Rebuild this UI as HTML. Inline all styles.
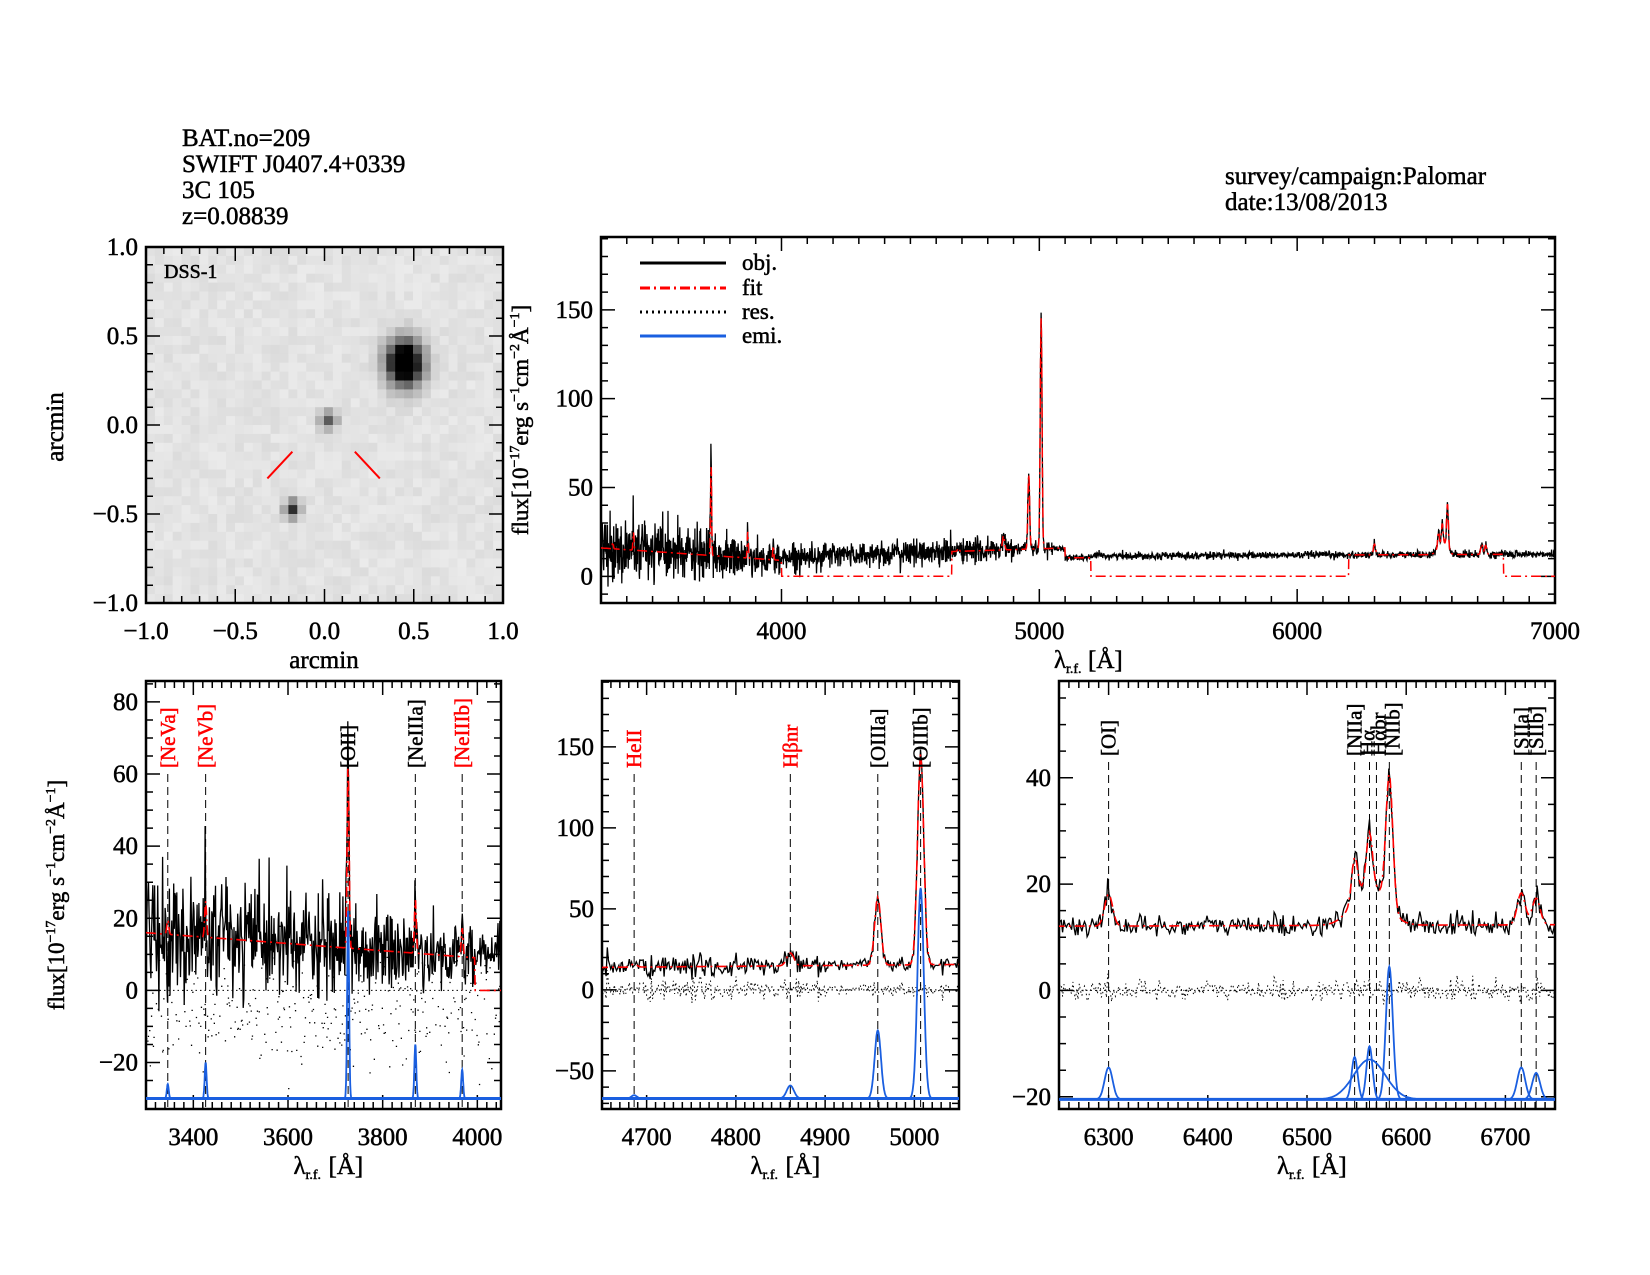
<!DOCTYPE html>
<html><head><meta charset="utf-8"><style>
html,body{margin:0;padding:0;background:#fff;}
svg{display:block;}
text{font-family:"Liberation Serif",serif;stroke:currentColor;stroke-width:0.5px;}
</style></head><body>
<svg id="s" width="1650" height="1275" xmlns="http://www.w3.org/2000/svg">
<g font-size="25" fill="#000" color="#000">
<text x="182" y="146">BAT.no=209</text>
<text x="182" y="172">SWIFT J0407.4+0339</text>
<text x="182" y="198">3C 105</text>
<text x="182" y="224">z=0.08839</text>
<text x="1225" y="184">survey/campaign:Palomar</text>
<text x="1225" y="210">date:13/08/2013</text>
</g>
</svg>
<script>
(function(){
var NS="http://www.w3.org/2000/svg",S=document.getElementById('s');
function el(t,a,p){var e=document.createElementNS(NS,t);for(var k in a)e.setAttribute(k,a[k]);(p||S).appendChild(e);return e;}
function txt(x,y,s,a,p){a=Object.assign({x:x,y:y,fill:'#000',color:'#000'},a||{});if(a.fill!=='#000')a.color=a.fill;var e=el('text',a,p);e.textContent=s;return e;}
var seed=12345;function rnd(){seed=(seed*1103515245+12345)%2147483648;return seed/2147483648;}
function gn(){var u=rnd()+1e-9,v=rnd();return Math.sqrt(-2*Math.log(u))*Math.cos(6.2832*v);}
function G(x,c,a,s){return a*Math.exp(-0.5*((x-c)/s)*((x-c)/s));}
var ix0=146,iy0=247,iw=357,ih=356,cell=8.9;
el('clipPath',{id:'ci'}).appendChild(el('rect',{x:ix0,y:iy0,width:iw,height:ih}));
var g=el('g',{'clip-path':'url(#ci)'});
function A2X(a){return ix0+(a+1)*iw/2;}function B2Y(b){return iy0+(1-b)*ih/2;}
var stars=[[0.45,0.35,0.07,0.09,1.3],[0.02,0.03,0.035,0.035,0.55],[-0.18,-0.47,0.03,0.035,0.75]];
for(var i=0;i<41;i++)for(var j=0;j<41;j++){
 var a=-1+(i+0.5)*cell*2/iw,b=1-(j+0.5)*cell*2/ih;
 var v=0.08+0.06*rnd();
 stars.forEach(function(s){v+=s[4]*Math.exp(-0.5*(((a-s[0])/s[2])**2+((b-s[1])/s[3])**2));});
 if(v>1)v=1;var c=Math.round(255*(1-v));
 el('rect',{x:ix0+i*cell,y:iy0+j*cell,width:cell+0.5,height:cell+0.5,fill:'rgb('+c+','+c+','+c+')'},g);}
el('line',{x1:A2X(-0.32),y1:B2Y(-0.3),x2:A2X(-0.18),y2:B2Y(-0.15),stroke:'#f00','stroke-width':2});
el('line',{x1:A2X(0.17),y1:B2Y(-0.15),x2:A2X(0.31),y2:B2Y(-0.3),stroke:'#f00','stroke-width':2});
txt(164,278,'DSS-1',{'font-size':20});
function frame(x0,y0,w,h,xr,yr,xmaj,xmin,ymaj,ymin,fmtx,fmty){
 el('rect',{x:x0,y:y0,width:w,height:h,fill:'none',stroke:'#000','stroke-width':2.5});
 function X(v){return x0+(v-xr[0])/(xr[1]-xr[0])*w;}function Y(v){return y0+h-(v-yr[0])/(yr[1]-yr[0])*h;}
 var d='';
 for(var v=Math.ceil(xr[0]/xmin-1e-6)*xmin;v<=xr[1]+1e-6;v+=xmin){var L=(Math.abs(v/xmaj-Math.round(v/xmaj))<1e-6)?14:7;var px=X(v);d+='M'+px+' '+(y0+h)+'v'+(-L)+'M'+px+' '+y0+'v'+L;
  if(L==14)txt(px,y0+h+36,fmtx(v),{'text-anchor':'middle','font-size':25});}
 for(var v=Math.ceil(yr[0]/ymin-1e-6)*ymin;v<=yr[1]+1e-6;v+=ymin){var L=(Math.abs(v/ymaj-Math.round(v/ymaj))<1e-6)?14:7;var py=Y(v);d+='M'+x0+' '+py+'h'+L+'M'+(x0+w)+' '+py+'h'+(-L);
  if(L==14)txt(x0-8,py+8,fmty(v),{'text-anchor':'end','font-size':25});}
 el('path',{d:d,stroke:'#000','stroke-width':1.5,fill:'none'});
 return {X:X,Y:Y};}
function f1(v){if(Math.abs(v)<1e-6)v=0;return v.toFixed(1).replace('-','\u2212');}
function f0(v){return (''+Math.round(v)).replace('-','\u2212');}
frame(ix0,iy0,iw,ih,[-1,1],[-1,1],0.5,0.1,0.5,0.1,f1,f1);
txt(324,668,'arcmin',{'text-anchor':'middle','font-size':25});
txt(0,0,'arcmin',{'text-anchor':'middle','font-size':25,transform:'translate(63,427) rotate(-90)'});
var lines=[[3346,4,2],[3426,10,2],[3727,52,2],[3869,15,2],[3968,8,2],[4686,2,3],[4861,8,4],[4959,42,3.5],[5007,130,3.5],[6300,6,4],[6548,8,3],[6563,10,3],[6563,7.5,16],[6583,25,3.5],[6716,6,4],[6731,5,4]];
function cont(x){if(x<4000)return 16-(x-3300)/700*7;if(x<5100)return 11+(x-4000)/1000*4.5;if(x<5200)return 10.5;return 11.5+(x-5200)/1800*1;}
function sig(x){if(x<3500)return 9;if(x<4000)return 9-(x-3500)/500*5;if(x<4900)return 3.5;if(x<5050)return 2;return 1;}
function em(x){var s=0;lines.forEach(function(l){s+=G(x,l[0],l[1],l[2]);});return s;}
var data=[];for(var x=3300;x<=7000;x+=1.3){var f=cont(x)+em(x);data.push([x,f+sig(x)*gn(),f]);}
function path(arr,X,Y,k){var d='';arr.forEach(function(p,i){d+=(i?'L':'M')+X(p[0]).toFixed(1)+' '+Y(p[k]).toFixed(1);});return d;}
var cid=0;
function clipG(x0,y0,w,h){cid++;el('clipPath',{id:'c'+cid}).appendChild(el('rect',{x:x0,y:y0,width:w,height:h}));return el('g',{'clip-path':'url(#c'+cid+')'});}
var T=frame(601,237,954,366,[3300,7000],[-15,191],1000,100,50,10,f0,f0);
var gt=clipG(601,237,954,366);
el('path',{d:path(data,T.X,T.Y,1),stroke:'#000','stroke-width':1.3,fill:'none'},gt);
var fitd=data.map(function(p){var x=p[0];var z=(x>=4000&&x<4660)||(x>=5200&&x<6200)||(x>=6800);return [x,0,z?0:p[2]];});
el('path',{d:path(fitd,T.X,T.Y,2),stroke:'#f00','stroke-width':1.5,fill:'none','stroke-dasharray':'10,4,2,4'},gt);
txt(1054,668,'\u03bb',{'font-size':25});txt(1066,673,'r.f.',{'font-size':14});
txt(1088,668,'[\u00c5]',{'font-size':25});
var lg=[['obj.','#000','none',263],['fit','#f00','10,4,2,4',288],['res.','#000','2,4',312],['emi.','#1a5fe0','none',336]];
lg.forEach(function(l){el('line',{x1:640,y1:l[3],x2:726,y2:l[3],stroke:l[1],'stroke-width':3,'stroke-dasharray':l[2]});txt(742,l[3]+7,l[0],{'font-size':23});});
function ylab(x,y){var t=el('text',{transform:'translate('+x+','+y+') rotate(-90)','text-anchor':'middle','font-size':23,'font-family':'Liberation Mono,monospace',fill:'#000',color:'#000'});
 t.innerHTML='flux[10<tspan dy="-9" font-size="14">\u221217</tspan><tspan dy="9">erg s</tspan><tspan dy="-9" font-size="14">\u22121</tspan><tspan dy="9">cm</tspan><tspan dy="-9" font-size="14">\u22122</tspan><tspan dy="9">\u00c5</tspan><tspan dy="-9" font-size="14">\u22121</tspan><tspan dy="9">]</tspan>';}
ylab(528,420);ylab(64,895);
function panel(x0,w,xr,yr,xmaj,xmin,ymaj,ymin,base,labs,lbot,fitEnd,dots){
 var P=frame(x0,681,w,428,xr,yr,xmaj,xmin,ymaj,ymin,f0,f0);
 var gc=clipG(x0,681,w,428);
 var sub=data.filter(function(p){return p[0]>=xr[0]-5&&p[0]<=xr[1]+5;});
 labs.forEach(function(l){el('line',{x1:P.X(l[0]),y1:lbot+6,x2:P.X(l[0]),y2:1109,stroke:'#000','stroke-width':1,'stroke-dasharray':'8,5'},gc);});
 el('line',{x1:x0,y1:P.Y(0),x2:x0+w,y2:P.Y(0),stroke:'#000','stroke-width':1,'stroke-dasharray':'1.5,3'},gc);
 if(dots){var dd='';sub.forEach(function(p){if(rnd()<0.6){var r=-6+8*gn();dd+='M'+P.X(p[0]).toFixed(1)+' '+P.Y(r).toFixed(1)+'h1.3';}});
  el('path',{d:dd,stroke:'#000','stroke-width':1.3,fill:'none'},gc);}
 else{var rd=sub.map(function(p){return [p[0],0,p[1]-p[2]];});
  el('path',{d:path(rd,P.X,P.Y,2),stroke:'#000','stroke-width':1,fill:'none','stroke-dasharray':'1.5,3'},gc);}
 el('path',{d:path(sub,P.X,P.Y,1),stroke:'#000','stroke-width':1.3,fill:'none'},gc);
 var fd=sub.map(function(p){return [p[0],0,(fitEnd&&p[0]>fitEnd)?0:p[2]];});
 el('path',{d:path(fd,P.X,P.Y,2),stroke:'#f00','stroke-width':1.6,fill:'none','stroke-dasharray':'10,4,2,4'},gc);
 el('line',{x1:x0,y1:P.Y(base),x2:x0+w,y2:P.Y(base),stroke:'#1a5fe0','stroke-width':3},gc);
 lines.forEach(function(l){if(l[0]<xr[0]||l[0]>xr[1])return;var a=[];for(var x=l[0]-5*l[2];x<=l[0]+5*l[2];x+=0.5)a.push([x,0,base+G(x,l[0],l[1],l[2])]);
  el('path',{d:path(a,P.X,P.Y,2),stroke:'#1a5fe0','stroke-width':1.8,fill:'none'},gc);});
 labs.forEach(function(l){txt(0,0,l[1],{'font-size':21,'font-family':'Liberation Mono,monospace',fill:l[2],transform:'translate('+(P.X(l[0])+(l[3]||0)+7)+','+lbot+') rotate(-90)'});});
 var cx=x0+w/2;
 txt(cx-30,1174,'\u03bb',{'font-size':25});txt(cx-18,1179,'r.f.',{'font-size':14});txt(cx+5,1174,'[\u00c5]',{'font-size':25});
 return P;}
panel(146,355,[3300,4050],[-32.9,85.8],200,20,20,5,-30,
 [[3346,'[NeVa]','#f00'],[3426,'[NeVb]','#f00'],[3727,'[OII]','#000'],[3869,'[NeIIIa]','#000'],[3968,'[NeIIIb]','#f00']],768,3995,true);
panel(602,357,[4650,5050],[-73.5,190.7],100,10,50,10,-67,
 [[4686,'HeII','#f00'],[4861,'H\u03b2nr','#f00'],[4959,'[OIIIa]','#000'],[5007,'[OIIIb]','#000']],768,0,false);
panel(1059,496,[6250,6750],[-22.3,58.2],100,10,20,5,-20.5,
 [[6300,'[OI]','#000'],[6548,'[NIIa]','#000'],[6563,'H\u03b1','#000',-2],[6570,'H\u03b1br','#000',2],[6583,'[NIIb]','#000',3],[6716,'[SIIa]','#000'],[6731,'[SIIb]','#000']],756,0,false);
})();
</script>
</body></html>
